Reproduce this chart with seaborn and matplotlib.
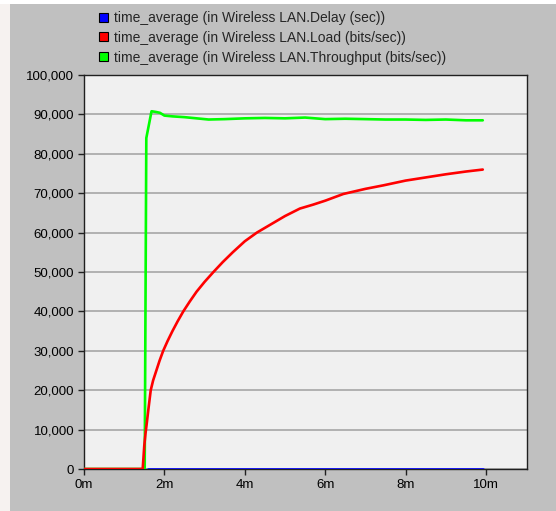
import matplotlib
matplotlib.use("Agg")
import matplotlib.pyplot as plt
import matplotlib.patches as mpatches
from matplotlib.ticker import FuncFormatter
import seaborn as sns
import pandas as pd

# ---- data (time in minutes) ----
throughput_t = [0.0, 1.50, 1.51, 1.55, 1.68, 1.80, 1.89, 2.0, 2.2, 2.5, 2.8, 3.1, 3.5, 4.0, 4.5,
                5.0, 5.5, 6.0, 6.5, 7.0, 7.5, 8.0, 8.5, 9.0, 9.5, 9.92]
throughput_v = [0, 0, 0, 84000, 90800, 90600, 90400, 89700, 89500, 89300, 89000, 88700, 88800,
                89000, 89100, 89000, 89200, 88800, 88900, 88800, 88700, 88700, 88600, 88700,
                88500, 88500]

load_t = [0.0, 1.46, 1.48, 1.50, 1.53, 1.56, 1.60, 1.66, 1.72, 1.80, 1.88, 1.97, 2.08, 2.2,
          2.33, 2.47, 2.63, 2.8, 3.0, 3.22, 3.45, 3.7, 4.0, 4.3, 4.6, 5.0, 5.37, 5.7, 6.0,
          6.45, 7.0, 7.45, 8.0, 8.5, 9.0, 9.5, 9.92]
load_v = [0, 0, 3000, 6000, 9000, 11500, 15000, 20000, 22500, 25000, 27500, 30000, 32500,
          35000, 37500, 40000, 42500, 45000, 47500, 50000, 52500, 55000, 57800, 60000, 61800,
          64200, 66100, 67100, 68100, 69800, 71100, 72000, 73200, 74000, 74800, 75500, 76000]

delay_t = [1.58, 9.93]
delay_v = [0, 0]

labels = ["time_average (in Wireless LAN.Delay (sec))",
          "time_average (in Wireless LAN.Load (bits/sec))",
          "time_average (in Wireless LAN.Throughput (bits/sec))"]
colors = ["#0000FF", "#FF0000", "#00FF00"]

y_ticks = list(range(0, 100001, 10000))
x_ticks = [0, 2, 4, 6, 8, 10]
x_tick_labels = ["0m", "2m", "4m", "6m", "8m", "10m"]

frames = []
for lab, t, v in zip(labels, [delay_t, load_t, throughput_t], [delay_v, load_v, throughput_v]):
    frames.append(pd.DataFrame({"time": t, "value": v, "series": lab}))
df = pd.concat(frames, ignore_index=True)

sns.set_theme(style="white")
plt.rcParams["font.family"] = ["Liberation Sans", "DejaVu Sans"]

fig = plt.figure(figsize=(5.56, 5.11), dpi=100, facecolor="#C0C0C0")
# white strips of the surrounding slide
fig.patches.append(mpatches.Rectangle((0, 0), 10 / 556, 1, transform=fig.transFigure,
                                      facecolor="#F6F2F0", edgecolor="none", zorder=0))
fig.patches.append(mpatches.Rectangle((0, 1 - 4 / 511), 1, 4 / 511, transform=fig.transFigure,
                                      facecolor="#FFFFFF", edgecolor="none", zorder=0))

ax = fig.add_axes([84 / 556, 1 - 469 / 511, (527 - 84) / 556, (469 - 75) / 511])
ax.set_facecolor("#F0F0F0")

# draw throughput first then load, delay on top
order = [labels[2], labels[1], labels[0]]
for lab in order:
    sub = df[df["series"] == lab]
    sns.lineplot(data=sub, x="time", y="value", color=colors[labels.index(lab)],
                 linewidth=1.9, ax=ax, estimator=None, sort=False, legend=False, zorder=3)

ax.set_xlim(0, 11.02)
ax.set_ylim(0, 100000)
ax.set_yticks(y_ticks)
ax.yaxis.set_major_formatter(FuncFormatter(lambda v, p: f"{int(v):,}"))
ax.set_xticks(x_ticks)
ax.set_xticklabels(x_tick_labels)
ax.set_xlabel("")
ax.set_ylabel("")
ax.grid(axis="y", color="#A0A0A0", linewidth=1.1, zorder=1)
ax.grid(axis="x", visible=False)
ax.set_axisbelow(True)
for s in ax.spines.values():
    s.set_color("#202020")
    s.set_linewidth(1.0)
ax.tick_params(axis="both", direction="out", length=4, width=1, color="#202020",
               labelsize=9.5, labelcolor="#000000", pad=3, bottom=True, left=True)

handles = [mpatches.Patch(facecolor=c, edgecolor="#000000", linewidth=0.8) for c in colors]
fig.legend(handles, labels, loc="upper left", bbox_to_anchor=(99 / 556, 1 - 11 / 511),
           frameon=False, fontsize=10, handlelength=0.62, handleheight=0.62,
           handletextpad=0.45, labelspacing=0.42, borderpad=0, borderaxespad=0)

fig.savefig("out.png", dpi=100, facecolor=fig.get_facecolor())
